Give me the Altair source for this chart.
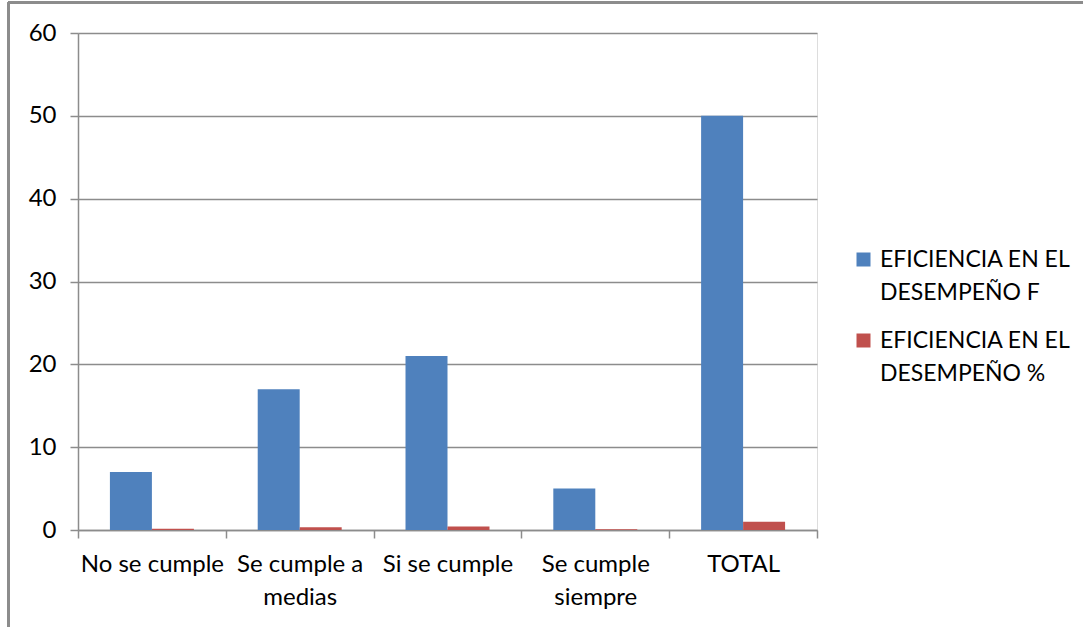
import altair as alt
import pandas as pd

# Survey results: frequency and share per response category
categorias = ["No se cumple", "Se cumple a medias", "Si se cumple", "Se cumple siempre", "TOTAL"]
series = ["EFICIENCIA EN EL DESEMPEÑO F", "EFICIENCIA EN EL DESEMPEÑO %"]
frecuencia = [7, 17, 21, 5, 50]
porcentaje = [0.14, 0.34, 0.42, 0.10, 1.00]
y_ticks = [0, 10, 20, 30, 40, 50, 60]

# Category labels split over two lines where they wrap
etiquetas = {
    "Se cumple a medias": ["Se cumple a", "medias"],
    "Se cumple siempre": ["Se cumple", "siempre"],
}

rows = []
for c, f, p in zip(categorias, frecuencia, porcentaje):
    rows.append({"categoria": c, "serie": series[0], "valor": f})
    rows.append({"categoria": c, "serie": series[1], "valor": p})
df = pd.DataFrame(rows)

FONT = "Lato"
FS = 24
GRAY = "#8c8c8c"
W, H = 739, 497

label_expr = " : ".join(
    [f"datum.label == '{k}' ? {v!r}" for k, v in etiquetas.items()] + ["datum.label"]
)

bars = alt.Chart(df).mark_bar().encode(
    x=alt.X(
        "categoria:N",
        sort=categorias,
        scale=alt.Scale(paddingInner=0, paddingOuter=0),
        axis=alt.Axis(
            title=None,
            labelAngle=0,
            labelExpr=label_expr,
            labelFont=FONT,
            labelFontSize=FS,
            labelColor="#000000",
            labelLineHeight=33,
            labelPadding=14,
            labelLimit=300,
            tickBand="extent",
            tickSize=8,
            tickColor=GRAY,
            tickWidth=1.5,
            domainColor=GRAY,
            domainWidth=1.5,
            grid=False,
        ),
    ),
    xOffset=alt.XOffset(
        "serie:N", sort=series, scale=alt.Scale(paddingInner=0, paddingOuter=0.76)
    ),
    y=alt.Y(
        "valor:Q",
        scale=alt.Scale(domain=[0, 60], nice=False),
        axis=alt.Axis(
            title=None,
            values=y_ticks,
            labelFont=FONT,
            labelFontSize=FS,
            labelColor="#000000",
            labelPadding=14,
            tickSize=8,
            tickColor=GRAY,
            tickWidth=1.5,
            domainColor=GRAY,
            domainWidth=1.5,
            grid=True,
            gridColor=GRAY,
            gridWidth=1.5,
        ),
    ),
    color=alt.Color(
        "serie:N",
        sort=series,
        scale=alt.Scale(domain=series, range=["#4F81BD", "#C0504D"]),
        legend=alt.Legend(
            title=None,
            orient="none",
            legendX=774,
            legendY=215,
            symbolType="square",
            symbolSize=196,
            symbolStrokeWidth=0,
            labelFont=FONT,
            labelFontSize=23,
            labelColor="#000000",
            labelOffset=5,
            labelLimit=300,
            labelExpr="[slice(datum.label, 0, 16), slice(datum.label, 17)]",
            rowPadding=24,
            padding=0,
        ),
    ),
)

# Outer frame of the chart box (left and top edges)
frame_left = alt.Chart(df).mark_rule(color=GRAY, strokeWidth=2).encode(
    x=alt.value(-69.5), y=alt.value(-30.5), y2=alt.value(H + 120)
)
frame_top = alt.Chart(df).mark_rule(color=GRAY, strokeWidth=2).encode(
    x=alt.value(-70), x2=alt.value(W + 300), y=alt.value(-30.5)
)

chart = (
    alt.layer(bars, frame_left, frame_top)
    .properties(
        width=W,
        height=H,
        autosize=alt.AutoSizeParams(type="none"),
        padding={"left": 78, "top": 33, "right": 1083 - 78 - W, "bottom": 627 - 33 - H},
    )
    .configure_view(stroke=None)
    .configure(background="#ffffff", style={"guide-label": {"lineHeight": 33}})
)

chart.save("out.html", embed_options={"renderer": "svg", "actions": False})
